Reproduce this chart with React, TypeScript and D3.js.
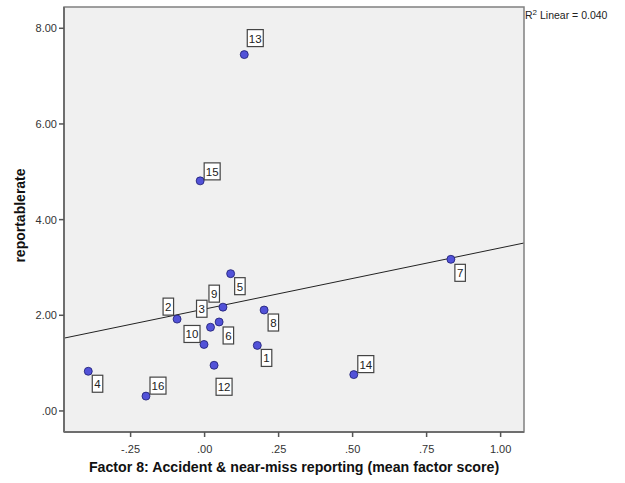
import React from "react";
import * as d3 from "d3";

// ---- data ----
const caseIds = [1, 2, 3, 4, 5, 6, 7, 8, 9, 10, 12, 13, 14, 15, 16];
const factorScore = [0.178, -0.093, 0.02, -0.393, 0.088, 0.049, 0.832, 0.201, 0.062, -0.002, 0.032, 0.134, 0.504, -0.015, -0.198];
const reportableRate = [1.37, 1.92, 1.75, 0.83, 2.87, 1.86, 3.17, 2.11, 2.17, 1.39, 0.955, 7.45, 0.76, 4.81, 0.31];
const xTicks = [-0.25, 0, 0.25, 0.5, 0.75, 1.0];
const yTicks = [0, 2, 4, 6, 8];
const fitIntercept = 2.13;
const fitSlope = 1.28;
const rSquaredText = "0.040";

// ---- layout (label box offsets from point, px) ----
const labelOffsets: Record<number, [number, number]> = {
  1: [4, 4], 2: [-14, -21], 3: [-14, -27], 4: [4, 4], 5: [4, 4], 6: [4, 5], 7: [4, 5],
  8: [4, 4], 9: [-14, -22], 10: [-20, -19], 12: [2, 13], 13: [3, -25], 14: [4, -19],
  15: [4, -18], 16: [4, -19],
};

const W = 625, H = 483;
const L = 64, R = 524, T = 7, B = 432;

const fmt = (v: number) => {
  const s = Math.abs(v).toFixed(2).replace(/^0/, "");
  return (v < 0 ? "-" : "") + s;
};

export default function App() {
  const x = d3.scaleLinear().domain([-0.475, 1.079]).range([L, R]);
  const y = d3.scaleLinear().domain([-0.44, 8.445]).range([B, T]);
  const font = "Arial, 'Liberation Sans', sans-serif";
  const [x0, x1] = x.domain();
  const line = d3.line<number>().x((d) => x(d)).y((d) => y(fitIntercept + fitSlope * d));

  return (
    <svg width={W} height={H} style={{ position: "absolute", left: 0, top: 0, background: "#fff" }} fontFamily={font}>
      <rect x={L} y={T} width={R - L} height={B - T} fill="#f0f0f0" />
      <path d={line([x0, x1]) || ""} stroke="#222" strokeWidth={1} fill="none" />
      {caseIds.map((id, i) => {
        const px = x(factorScore[i]);
        const py = y(reportableRate[i]);
        return <circle key={"p" + id} cx={px} cy={py} r={4} fill="#5252d8" stroke="#1c1c70" strokeWidth={0.8} />;
      })}
      {caseIds.map((id, i) => {
        const px = x(factorScore[i]);
        const py = y(reportableRate[i]);
        const [dx, dy] = labelOffsets[id];
        const txt = String(id);
        const bw = txt.length === 1 ? 10.5 : 16;
        const bh = 17;
        return (
          <g key={"l" + id}>
            <rect x={px + dx} y={py + dy} width={bw} height={bh} fill="#fff" stroke="#444" strokeWidth={1.2} />
            <text x={px + dx + bw / 2} y={py + dy + 13} textAnchor="middle" fontSize={11.5} fill="#222">{txt}</text>
          </g>
        );
      })}
      <rect x={L} y={T} width={R - L} height={B - T} fill="none" stroke="#808080" strokeWidth={1.5} />
      <line x1={L} x2={L} y1={T} y2={B} stroke="#6e6e6e" strokeWidth={2} />
      <line x1={L} x2={R} y1={B} y2={B} stroke="#6e6e6e" strokeWidth={2} />
      {yTicks.map((t) => (
        <g key={"yt" + t}>
          <line x1={L - 5} x2={L} y1={y(t)} y2={y(t)} stroke="#555" strokeWidth={1.5} />
          <text x={L - 7} y={y(t) + 4} textAnchor="end" fontSize={11} fill="#333">{fmt(t)}</text>
        </g>
      ))}
      {xTicks.map((t) => (
        <g key={"xt" + t}>
          <line x1={x(t)} x2={x(t)} y1={B} y2={B + 5} stroke="#555" strokeWidth={1.5} />
          <text x={x(t)} y={B + 21} textAnchor="middle" fontSize={11} fill="#333">{fmt(t)}</text>
        </g>
      ))}
      <text x={294} y={472} textAnchor="middle" fontSize={14.2} fontWeight="bold" fill="#111">
        Factor 8: Accident &amp; near-miss reporting (mean factor score)
      </text>
      <text transform={`translate(25, ${(T + B) / 2 - 4}) rotate(-90)`} textAnchor="middle" fontSize={14} fontWeight="bold" fill="#111">
        reportablerate
      </text>
      <text x={525} y={19} fontSize={10.5} fill="#222">
        R<tspan dy={-4} fontSize={8}>2</tspan><tspan dy={4}> Linear = {rSquaredText}</tspan>
      </text>
    </svg>
  );
}
